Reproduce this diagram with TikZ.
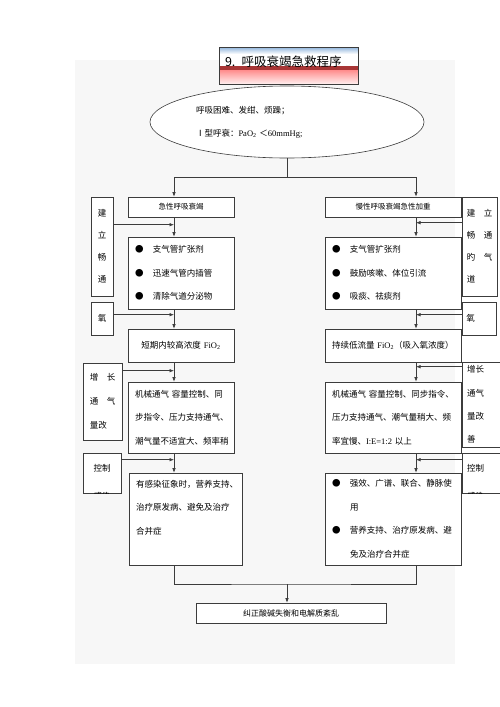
\documentclass[tikz,border=0pt]{standalone}
\usepackage{fontspec}
\setmainfont{Liberation Serif}
\newfontfamily\cjk{Noto Sans CJK SC}
\usetikzlibrary{shapes.geometric,arrows.meta,calc}
\definecolor{pagegray}{HTML}{F7F7F7}
\definecolor{linegray}{HTML}{3C3C3C}
\definecolor{bandred}{HTML}{A83636}
\definecolor{bandblue}{HTML}{8FB4DC}
\newcommand{\lat}[1]{{\rmfamily #1}}
\newcommand{\blt}{●\hspace{9.5pt}}
\newcommand{\cont}{\hspace*{18pt}}
\newcommand{\feedin}[4]{
	\path ($(#1.north #2)+(0,#3)$) coordinate (#1in);
	\draw[arr] (#1in) -- (#1in -| #4);
}

\begin{document}
\begin{tikzpicture}[x=1pt,y=-1pt,
	box/.style={draw=linegray, line width=0.6pt, fill=white, inner xsep=7pt, inner ysep=0pt, align=left, font=\fontsize{8.5}{23.5}\selectfont\cjk},
	head/.style={box, align=center, minimum height=20, font=\fontsize{7.5}{9}\selectfont\cjk},
	side/.style={box, inner xsep=0pt, align=center, font=\fontsize{8.5}{22}\selectfont\cjk},
	arr/.style={draw=linegray, line width=0.6pt, -{Latex[length=4.5pt,width=3.5pt]}},
	link/.style={draw=linegray, line width=0.6pt}]
	\useasboundingbox (0,0) rectangle (500,707);
	\fill[pagegray] (75,60) rectangle (455,664);

	\fill[white] (219,47) rectangle (358,84);
	\shade[top color=bandblue, bottom color=white] (219,47) rectangle (358,54);
	\fill[bandred] (219,66) rectangle (358,70);
	\shade[top color=red!45, bottom color=red!6] (219,70) rectangle (358,84);
	\node[draw=linegray, line width=1pt, inner sep=0pt, minimum width=139, minimum height=37, text width=127, text depth=9pt, align=left, font=\fontsize{12.5}{14}\selectfont\cjk] (title) at (288.5,65.5) {9. 呼吸衰竭急救程序};

	\node[draw=linegray, line width=0.6pt, fill=white, ellipse, inner sep=0pt, minimum width=274, minimum height=72, text width=182, align=left, font=\fontsize{8.5}{23}\selectfont\cjk] (el) at (287,122)
		{呼吸困难、发绀、烦躁；\\Ⅰ型呼衰：\lat{PaO\textsubscript{2}} ＜\lat{60mmHg;}};

	\node[head, minimum width=106, text width=92] (L1) at (181,207) {急性呼吸衰竭};
	\node[head, minimum width=136, text width=122] (R1) at (393,207) {慢性呼吸衰竭急性加重};

	\node[box, text width=92, minimum height=72] (L2) at (181,273)
		{\blt 支气管扩张剂\\\blt 迅速气管内插管\\\blt 清除气道分泌物};
	\node[box, text width=122, minimum height=72] (R2) at (393,273)
		{\blt 支气管扩张剂\\\blt 鼓励咳嗽、体位引流\\\blt 吸痰、祛痰剂};

	\node[box, align=center, text width=92, minimum height=33] (L3) at (181,345.5)
		{短期内较高浓度 \lat{FiO\textsubscript{2}}};
	\node[box, text width=122, minimum height=33] (R3) at (393,345.5)
		{持续低流量 \lat{FiO\textsubscript{2}}（吸入氧浓度）};

	\node[box, text width=92, minimum height=71] (L4) at (181,417.5)
		{机械通气 容量控制、同\\步指令、压力支持通气、\\潮气量不适宜大、频率稍};
	\node[box, text width=122, minimum height=71] (R4) at (393,417.5)
		{机械通气 容量控制、同步指令、\\压力支持通气、潮气量稍大、频\\率宜慢、\lat{I:E=1:2} 以上};

	\node[box, text width=99, minimum height=92] (L5) at (185.5,519)
		{有感染征象时，营养支持、\\治疗原发病、避免及治疗\\合并症\\\mbox{}};
	\node[box, text width=122, minimum height=92] (R5) at (393,519)
		{\blt 强效、广谱、联合、静脉使\\\cont 用\\\blt 营养支持、治疗原发病、避\\\cont 免及治疗合并症};

	\node[head, minimum width=190, text width=176, font=\fontsize{8}{9}\selectfont\cjk] (BT) at (291,613) {纠正酸碱失衡和电解质紊乱};

	\node[side, minimum width=22, text width=22, minimum height=99] (S1) at (102,246.5) {建\\立\\畅\\通};
	\node[side, minimum width=22, text width=22, minimum height=33] (S2) at (102,318.5) {氧};
	\node[side, minimum width=39, text width=25.5, minimum height=77, align=left, font=\fontsize{8.5}{24}\selectfont\cjk] (S3) at (102.5,401.5)
		{增\quad 长\\通\quad 气\\量改};
	\node[side, minimum width=38, minimum height=40] (S4) at (102,473) {};
	\begin{scope}
		\clip (S4.south west) rectangle (S4.north east);
		\node[inner sep=0pt, align=left, font=\fontsize{8.5}{28}\selectfont\cjk] (S4t) at ($(S4.center)+(0,9)$) {控制\\感染};
	\end{scope}

	\node[side, minimum width=35, text width=25.5, minimum height=99, align=left] (RS1) at (479.5,246.5)
		{建\quad 立\\畅\quad 通\\旳\quad 气\\道};
	\node[side, minimum width=34, text width=25.5, minimum height=33, align=left] (RS2) at (479,318.5) {氧};
	\node[side, minimum width=41, text width=31, minimum height=85, align=left, font=\fontsize{8.5}{23.3}\selectfont\cjk] (RS3) at (482.5,404.5)
		{增长\\通气\\量改\\善};
	\node[side, minimum width=42, minimum height=40] (RS4) at (483,473) {};
	\begin{scope}
		\clip (RS4.south west) rectangle (RS4.north east);
		\node[inner sep=0pt, text width=32, align=left, font=\fontsize{8.5}{28}\selectfont\cjk] (RS4t) at ($(RS4.center)+(0,9)$) {控制\\感染};
	\end{scope}

	\coordinate (lx) at (174,0);
	\coordinate (rx) at (416,0);
	\coordinate (split) at (287,177);
	\coordinate (join) at (287,584);

	\draw[link] (el.south) -- (split);
	\draw[arr] (split) -| (L1.north -| lx);
	\draw[arr] (split) -| (R1.north -| rx);

	\draw[arr] (L1.south -| lx) -- (L2.north -| lx);
	\draw[arr] (L2.south -| lx) -- (L3.north -| lx);
	\draw[arr] (L3.south -| lx) -- (L4.north -| lx);
	\draw[arr] (L4.south -| lx) -- (L5.north -| lx);
	\draw[arr] (R1.south -| rx) -- (R2.north -| rx);
	\draw[arr] (R2.south -| rx) -- (R3.north -| rx);
	\draw[arr] (R3.south -| rx) -- (R4.north -| rx);
	\draw[arr] (R4.south -| rx) -- (R5.north -| rx);

	\feedin{S1}{east}{28}{lx}
	\feedin{S2}{east}{13}{lx}
	\feedin{S3}{east}{8}{lx}
	\feedin{S4}{east}{7}{lx}
	\feedin{RS1}{west}{26}{rx}
	\feedin{RS2}{west}{13}{rx}
	\feedin{RS3}{west}{5}{rx}
	\feedin{RS4}{west}{7}{rx}

	\draw[link] (L5.south -| lx) |- (join) -| (R5.south -| rx);
	\draw[arr] (join) -- (join |- BT.north);
\end{tikzpicture}
\end{document}
